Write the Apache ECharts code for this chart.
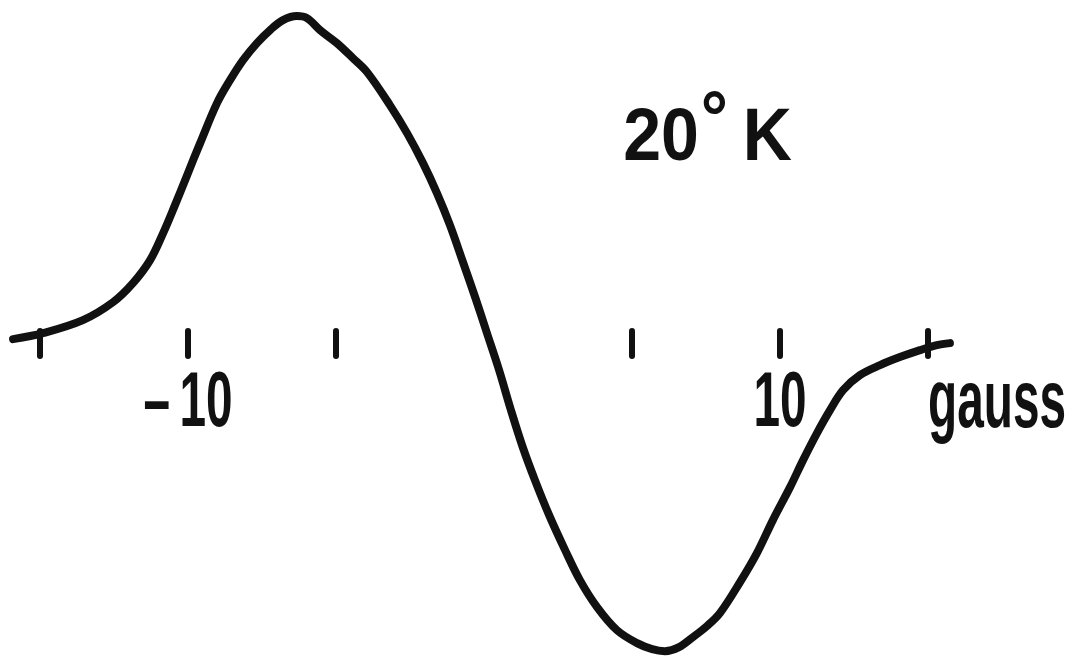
<!DOCTYPE html>
<html>
<head>
<meta charset="utf-8">
<title>20 °K derivative signal</title>
<script src="https://cdn.jsdelivr.net/npm/echarts@6/dist/echarts.min.js"></script>
<style>
  html, body { margin: 0; padding: 0; background: #ffffff; }
  #chart { width: 1072px; height: 657px; }
</style>
</head>
<body>
<div id="chart"></div>
<script>
// Field sweep (gauss) and derivative signal (arbitrary units)
const fieldGauss = [-15.91, -14.90, -13.55, -12.53, -11.86, -11.28, -10.84, -10.44, -10.03, -9.59,
  -9.02, -8.58, -8.14, -7.67, -7.23, -6.79, -6.32, -5.98, -5.54, -4.97,
  -4.43, -3.95, -3.18, -2.60, -2.06, -1.59, -1.15, -0.71, -0.30, 0.10,
  0.51, 0.91, 1.32, 1.72, 2.20, 2.74, 3.24, 3.82, 4.49, 5.17,
  5.68, 6.11, 6.59, 7.06, 7.53, 7.97, 8.65, 9.22, 9.76, 10.34,
  10.78, 11.25, 11.69, 12.13, 12.70, 13.38, 14.05, 14.73, 15.30, 15.74];
const signal = [0.91, 2.74, 6.71, 12.20, 17.99, 25.00, 33.23, 41.77, 50.91, 60.67,
  72.87, 79.88, 85.98, 91.16, 95.12, 98.17, 99.39, 98.78, 95.12, 91.16,
  86.59, 82.32, 72.26, 63.72, 54.57, 45.43, 35.67, 24.39, 13.72, 2.74,
  -8.54, -20.73, -32.32, -42.07, -52.74, -63.41, -72.56, -80.79, -87.80, -91.77,
  -93.60, -94.21, -92.99, -89.94, -86.59, -82.62, -73.17, -64.33, -54.27, -44.21,
  -35.98, -27.74, -20.73, -14.63, -10.06, -7.01, -4.57, -2.44, -0.91, -0.30];

// Axis marks and lettering
const tickValues = [-15, -10, -5, 5, 10, 15];
const labelValues = [-10, 10];
const unitLabel = 'gauss';
const tempValue = '20';
const tempUnit = 'K';
const tempAnchor = [7.55, 54.6];   // field, signal position of the temperature note

const INK = '#111111';
const FONT = 'Liberation Sans';

const chart = echarts.init(document.getElementById('chart'), null, { renderer: 'canvas' });

chart.setOption({
  animation: false,
  backgroundColor: '#ffffff',
  grid: { left: 10.4, right: 114.4, top: 1, bottom: 0 },
  xAxis: {
    type: 'value',
    min: -16,
    max: 16,
    position: 'bottom',
    offset: -326,
    splitLine: { show: false },
    axisLine: { show: false, onZero: false },
    axisTick: {
      show: true,
      customValues: tickValues,
      inside: false,
      length: 25,
      lineStyle: { color: INK, width: 6, cap: 'round' }
    },
    axisLabel: { show: false }
  },
  yAxis: {
    type: 'value',
    min: -96,
    max: 104,
    show: false,
    splitLine: { show: false }
  },
  series: [{
    type: 'line',
    data: fieldGauss.map((g, i) => [g, signal[i]]),
    showSymbol: false,
    smooth: 0.35,
    clip: false,
    lineStyle: { color: INK, width: 8, cap: 'round', join: 'round' }
  }]
});

// Lettering placed through the axis scales
const px = v => chart.convertToPixel({ xAxisIndex: 0 }, v);
const py = v => chart.convertToPixel({ yAxisIndex: 0 }, v);
const baseY = py(0);

function lettering(text, x, baseline, size, sx, align, rich) {
  const style = {
    text: text,
    fontSize: size,
    fontWeight: 'bold',
    fontFamily: FONT,
    fill: INK,
    align: align,
    verticalAlign: 'middle',
    lineHeight: size
  };
  if (rich) style.rich = rich;
  return {
    type: 'text',
    x: x,
    y: baseline - 0.31 * size,
    scaleX: sx,
    silent: true,
    style: style
  };
}

const fmt = v => (v < 0 ? '\u2013\u2009' : '') + Math.abs(v);

const graphics = labelValues.map(v => lettering(fmt(v), px(v), baseY + 87, 77, 0.62, 'center'));
graphics.push(lettering(unitLabel, px(15), baseY + 88, 81, 0.59, 'left'));

// temperature note with a raised degree sign
const degStyle = {
  deg: {
    fontSize: 74, fontWeight: 'bold', fontFamily: FONT, fill: INK,
    lineHeight: 40, verticalAlign: 'bottom', padding: [0, 16, 17, 2]
  }
};
graphics.push(lettering(tempValue + '{deg|°}' + tempUnit, px(tempAnchor[0]), py(tempAnchor[1]),
  74, 0.92, 'center', degStyle));

chart.setOption({ graphic: graphics });
</script>
</body>
</html>
